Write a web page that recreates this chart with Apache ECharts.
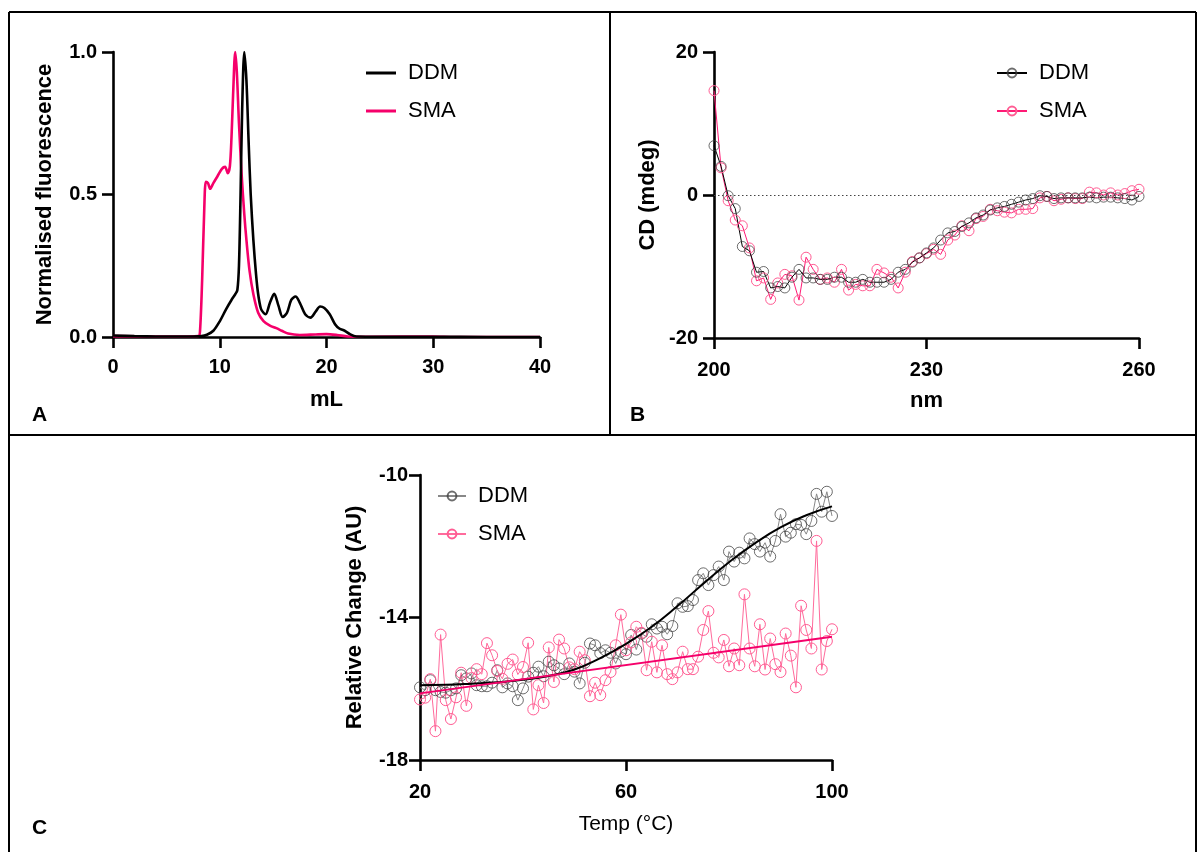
<!DOCTYPE html>
<html><head><meta charset="utf-8">
<script src="https://cdn.jsdelivr.net/npm/echarts@6/dist/echarts.min.js"></script>
<style>html,body{margin:0;padding:0;background:#fff}#c{width:1198px;height:852px}</style>
</head><body><div id="c"></div><script>
// ---------- Panel A: SEC (mL vs normalised fluorescence) ----------
const secDDM = [[0,0.005],[2,0.003],[4,0.002],[6,0.002],[7.5,0.002],[8.3,0.003],[8.8,0.008],[9.4,0.022],[10,0.055],[10.6,0.098],[11.1,0.13],[11.45,0.15],[11.65,0.165],[11.8,0.25],[11.95,0.5],[12.1,0.8],[12.3,1.0],[12.5,0.9],[12.7,0.69],[12.9,0.5],[13.15,0.34],[13.4,0.22],[13.6,0.15],[13.85,0.1],[14.1,0.085],[14.3,0.08],[14.7,0.12],[15.1,0.152],[15.5,0.11],[15.9,0.07],[16.3,0.085],[16.7,0.13],[17.1,0.142],[17.5,0.12],[18.0,0.08],[18.5,0.068],[19.0,0.09],[19.4,0.107],[19.8,0.102],[20.3,0.08],[20.8,0.045],[21.2,0.03],[21.7,0.022],[22.2,0.01],[22.8,0.002],[25,0.001],[30,0.001],[35,0],[40,0]];
const secSMA = [[0,0.003],[4,0.002],[7,0.002],[8.0,0.003],[8.15,0.02],[8.35,0.2],[8.55,0.45],[8.7,0.545],[8.9,0.54],[9.1,0.52],[9.4,0.54],[9.8,0.565],[10.2,0.59],[10.5,0.597],[10.75,0.575],[10.95,0.6],[11.1,0.7],[11.25,0.85],[11.45,1.0],[11.6,0.93],[11.8,0.75],[12.05,0.57],[12.3,0.43],[12.5,0.34],[12.8,0.23],[13.15,0.15],[13.6,0.085],[14.1,0.056],[14.7,0.04],[15.3,0.031],[15.8,0.022],[16.4,0.012],[17.5,0.007],[19,0.009],[20,0.01],[21,0.007],[22,0.002],[24,0.001],[30,0.002],[32,0],[40,0]];

// ---------- Panel B: CD spectrum ----------
const cdNm = [200,201,202,203,204,205,206,207,208,209,210,211,212,213,214,215,216,217,218,219,220,221,222,223,224,225,226,227,228,229,230,231,232,233,234,235,236,237,238,239,240,241,242,243,244,245,246,247,248,249,250,251,252,253,254,255,256,257,258,259,260];
const cdDDM = [6.9,4.0,-0.1,-1.9,-7.2,-7.8,-10.8,-10.7,-13.0,-12.8,-13.0,-11.5,-10.4,-11.6,-11.6,-11.8,-11.8,-11.5,-11.5,-12.2,-12.2,-11.8,-12.2,-12.2,-12.2,-11.8,-10.8,-10.4,-9.4,-8.8,-8.1,-7.4,-6.3,-5.3,-5.1,-4.4,-3.9,-3.2,-2.8,-2.1,-1.8,-1.6,-1.3,-1.0,-0.7,-0.5,-0.1,-0.2,-0.5,-0.4,-0.4,-0.4,-0.4,-0.3,-0.4,-0.3,-0.3,-0.4,-0.5,-0.7,-0.2];
const cdSMA = [14.6,3.8,-0.8,-3.5,-4.3,-7.4,-12.0,-11.6,-14.6,-12.3,-11.1,-11.3,-14.7,-8.7,-10.4,-11.8,-11.6,-12.2,-10.4,-13.3,-12.5,-12.7,-12.7,-10.4,-10.9,-11.5,-13.0,-10.8,-9.3,-8.8,-8.2,-7.6,-8.3,-6.3,-5.6,-4.3,-5.0,-3.3,-3.0,-2.0,-2.2,-2.4,-2.5,-2.0,-2.0,-1.9,-0.4,-0.2,-0.8,-0.6,-0.4,-0.5,-0.5,0.4,0.3,0.0,0.3,0.0,0.2,0.6,0.8];

// ---------- Panel C: thermal melt ----------
const tempC = [20,21,22,23,24,25,26,27,28,29,30,31,32,33,34,35,36,37,38,39,40,41,42,43,44,45,46,47,48,49,50,51,52,53,54,55,56,57,58,59,60,61,62,63,64,65,66,67,68,69,70,71,72,73,74,75,76,77,78,79,80,81,82,83,84,85,86,87,88,89,90,91,92,93,94,95,96,97,98,99,100];
const meltDDM = [-15.96,-16.04,-15.76,-16.04,-16.09,-16.11,-16.04,-15.99,-15.62,-15.71,-15.57,-15.90,-15.93,-15.93,-15.83,-15.48,-15.96,-15.85,-15.93,-16.32,-15.99,-15.66,-15.55,-15.38,-15.65,-15.24,-15.34,-15.43,-15.59,-15.29,-15.52,-15.85,-15.27,-14.73,-14.78,-15.00,-14.92,-14.99,-15.29,-14.96,-15.03,-14.49,-14.90,-14.45,-14.54,-14.19,-14.31,-14.26,-14.47,-14.24,-13.60,-13.70,-13.68,-13.51,-12.95,-12.76,-13.09,-12.81,-12.57,-12.95,-12.15,-12.43,-12.18,-12.34,-11.78,-11.94,-12.15,-11.90,-12.29,-11.85,-11.10,-11.73,-11.62,-11.38,-11.40,-11.66,-11.29,-10.53,-11.03,-10.47,-11.15];
const meltSMA = [-16.30,-16.25,-15.73,-17.19,-14.48,-16.32,-16.85,-16.24,-15.55,-16.48,-15.70,-15.45,-15.59,-14.72,-15.06,-15.50,-15.72,-15.30,-15.18,-15.60,-15.39,-14.71,-16.58,-15.90,-16.40,-14.84,-15.81,-14.62,-14.87,-15.40,-15.45,-14.96,-15.20,-16.21,-15.83,-16.18,-15.76,-15.53,-14.78,-13.92,-14.92,-14.70,-14.26,-14.43,-15.48,-14.68,-15.54,-14.78,-15.59,-15.73,-15.54,-14.96,-15.45,-15.45,-15.10,-14.35,-13.82,-14.99,-15.12,-14.63,-15.37,-14.87,-15.34,-13.35,-14.87,-15.37,-14.19,-15.46,-14.59,-15.31,-15.53,-14.45,-15.07,-15.96,-13.67,-14.35,-14.87,-11.85,-15.46,-14.66,-14.33];
const fitT = [20,25,30,35,40,45,50,55,60,65,70,75,80,85,90,95,100];
const fitDDM = [-15.90,-15.89,-15.86,-15.82,-15.75,-15.64,-15.46,-15.14,-14.74,-14.26,-13.68,-13.05,-12.45,-11.92,-11.47,-11.13,-10.88];
const fitSMAT = [20,100];
const fitSMA = [-16.13,-14.54];

const legendNames = ['DDM','SMA'];

const FONT = 'Arial, "Liberation Sans", sans-serif';
const PINK = '#f5006a';
const PINK_LIGHT = '#ff5c93';
const GRAY = 'rgba(60,60,60,0.75)';

function pairs(xs, ys){ return xs.map((x,i)=>[x, ys[i]]); }

function axisBase(extra){
  return Object.assign({
    type:'value',
    splitLine:{show:false},
    axisLine:{show:true, onZero:false, lineStyle:{color:'#000', width:2.6}},
    axisTick:{show:true, length:11, lineStyle:{color:'#000', width:2.6}},
    axisLabel:{color:'#000', fontSize:20, fontWeight:'bold', fontFamily:FONT},
    nameLocation:'middle',
    nameTextStyle:{color:'#000', fontSize:22, fontWeight:'bold', fontFamily:FONT}
  }, extra);
}

const chart = echarts.init(document.getElementById('c'), null, {renderer:'canvas'});

const legendText = {fontSize:22, fontFamily:FONT, color:'#000', lineHeight:22, padding:[0,0,0,7]};
const fmt = n => n.split('|')[1];

const circleStyle = (c) => ({color:'rgba(255,255,255,0)', borderColor:c, borderWidth:1});

const option = {
  animation:false,
  backgroundColor:'#fff',
  textStyle:{fontFamily:FONT},
  grid:[
    {left:113, top:52, width:427, height:285},
    {left:714, top:52, width:425, height:286},
    {left:420, top:475, width:412, height:285}
  ],
  xAxis:[
    axisBase({gridIndex:0, min:0, max:40, interval:10, name:'mL', nameGap:52, axisLabel:{color:'#000', fontSize:20, fontWeight:'bold', fontFamily:FONT, margin:20}}),
    axisBase({gridIndex:1, min:200, max:260, interval:30, name:'nm', nameGap:52, axisLabel:{color:'#000', fontSize:20, fontWeight:'bold', fontFamily:FONT, margin:22}}),
    axisBase({gridIndex:2, min:20, max:100, interval:40, name:'Temp (°C)', nameGap:54, axisLabel:{color:'#000', fontSize:20, fontWeight:'bold', fontFamily:FONT, margin:22},
      nameTextStyle:{color:'#000', fontSize:21, fontWeight:'normal', fontFamily:FONT}})
  ],
  yAxis:[
    axisBase({gridIndex:0, min:0, max:1, interval:0.5, name:'Normalised fluorescence', nameGap:57,
      axisLabel:{color:'#000', fontSize:20, fontWeight:'bold', fontFamily:FONT, margin:16, formatter:v=>v.toFixed(1)}}),
    axisBase({gridIndex:1, min:-20, max:20, interval:20, name:'CD (mdeg)', nameGap:55,
      axisLabel:{color:'#000', fontSize:20, fontWeight:'bold', fontFamily:FONT, margin:16}}),
    axisBase({gridIndex:2, min:-18, max:-10, interval:4, name:'Relative Change (AU)', nameGap:54,
      axisLabel:{color:'#000', fontSize:20, fontWeight:'bold', fontFamily:FONT, margin:12}})
  ],
  legend:[
    {left:361, top:57, orient:'vertical', icon:'rect', itemWidth:30, itemHeight:3, itemGap:16, selectedMode:false,
      data:['A|'+legendNames[0],'A|'+legendNames[1]], formatter:fmt, textStyle:legendText},
    {left:991, top:57, orient:'vertical', itemWidth:30, itemHeight:11, itemGap:16, selectedMode:false,
      data:['B|'+legendNames[0],'B|'+legendNames[1]], formatter:fmt, textStyle:legendText},
    {left:432, top:480, orient:'vertical', itemWidth:28, itemHeight:11, itemGap:16, selectedMode:false,
      data:['C|'+legendNames[0],'C|'+legendNames[1]], formatter:fmt, textStyle:legendText}
  ],
  series:[
    {name:'A|SMA', type:'line', xAxisIndex:0, yAxisIndex:0, data:secSMA, symbol:'none', smooth:0.3,
      lineStyle:{color:PINK, width:2.6}, itemStyle:{color:PINK}},
    {name:'A|DDM', type:'line', xAxisIndex:0, yAxisIndex:0, data:secDDM, symbol:'none', smooth:0.3,
      lineStyle:{color:'#000', width:2.6}, itemStyle:{color:'#000'}},

    {name:'B|SMA', type:'line', xAxisIndex:1, yAxisIndex:1, data:pairs(cdNm, cdSMA), symbol:'circle', symbolSize:10,
      lineStyle:{color:'#ff1a75', width:1}, itemStyle:circleStyle(PINK_LIGHT)},
    {name:'B|DDM', type:'line', xAxisIndex:1, yAxisIndex:1, data:pairs(cdNm, cdDDM), symbol:'circle', symbolSize:10,
      lineStyle:{color:'#000', width:1}, itemStyle:circleStyle(GRAY),
      markLine:{silent:true, symbol:'none', label:{show:false}, lineStyle:{type:[1.5,2.5], color:'#444', width:1.2}, data:[{yAxis:0}]}},

    {name:'C|DDM', type:'line', xAxisIndex:2, yAxisIndex:2, data:pairs(tempC, meltDDM), symbol:'circle', symbolSize:11,
      lineStyle:{color:'#888', width:1}, itemStyle:circleStyle(GRAY)},
    {name:'C|SMA', type:'line', xAxisIndex:2, yAxisIndex:2, data:pairs(tempC, meltSMA), symbol:'circle', symbolSize:11,
      lineStyle:{color:'#ff6b9c', width:1}, itemStyle:circleStyle(PINK_LIGHT)},
    {name:'C|DDM fit', type:'line', xAxisIndex:2, yAxisIndex:2, data:pairs(fitT, fitDDM), symbol:'none', smooth:true,
      lineStyle:{color:'#000', width:2}, z:5},
    {name:'C|SMA fit', type:'line', xAxisIndex:2, yAxisIndex:2, data:pairs(fitSMAT, fitSMA), symbol:'none',
      lineStyle:{color:PINK, width:2}, z:5}
  ],
  graphic:[
    {type:'line', shape:{x1:9,y1:12,x2:1196,y2:12}, style:{stroke:'#000', lineWidth:2}},
    {type:'line', shape:{x1:9,y1:12,x2:9,y2:852}, style:{stroke:'#000', lineWidth:2}},
    {type:'line', shape:{x1:1196,y1:12,x2:1196,y2:852}, style:{stroke:'#000', lineWidth:2}},
    {type:'line', shape:{x1:9,y1:435,x2:1196,y2:435}, style:{stroke:'#000', lineWidth:2}},
    {type:'line', shape:{x1:610,y1:12,x2:610,y2:435}, style:{stroke:'#000', lineWidth:2}},
    {type:'text', left:32, top:405, style:{text:'A', font:'bold 21px '+FONT, fill:'#000'}},
    {type:'text', left:630, top:405, style:{text:'B', font:'bold 21px '+FONT, fill:'#000'}},
    {type:'text', left:32, top:818, style:{text:'C', font:'bold 21px '+FONT, fill:'#000'}}
  ]
};
chart.setOption(option);
</script></body></html>
